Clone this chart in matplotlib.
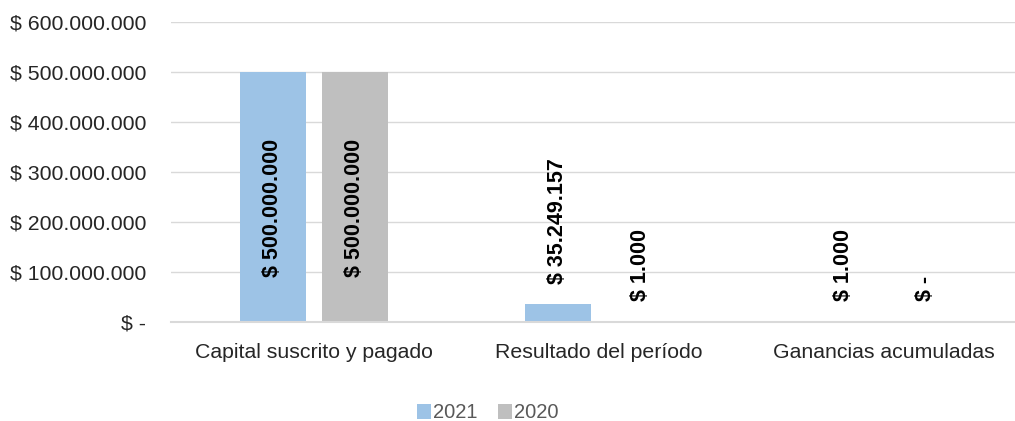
import matplotlib.pyplot as plt
import numpy as np

categorias = ["Capital suscrito y pagado", "Resultado del período", "Ganancias acumuladas"]
series = ["2021", "2020"]
valores_2021 = [500000000, 35249157, 1000]
valores_2020 = [500000000, 1000, 0]
yticks = [0, 100000000, 200000000, 300000000, 400000000, 500000000, 600000000]


def pesos(v):
    if v == 0:
        return "$ -"
    return "$ " + f"{v:,.0f}".replace(",", ".")


plt.rcParams['font.family'] = ['Liberation Sans', 'DejaVu Sans']

fig = plt.figure(figsize=(10.15, 4.21), dpi=100)
ax = fig.add_axes([171 / 1015, 1 - 322 / 421, 856 / 1015, 300 / 421])

x = np.arange(len(categorias))
w = 0.231
off = 0.144
colores = ["#9DC3E6", "#BFBFBF"]

for i, (vals, nombre) in enumerate([(valores_2021, series[0]), (valores_2020, series[1])]):
    pos = x - off if i == 0 else x + off
    bars = ax.bar(pos, vals, width=w, color=colores[i], label=nombre, zorder=2)
    for b, v in zip(bars, vals):
        if v > 200000000:
            ax.text(b.get_x() + w / 2, v * 0.455, pesos(v), rotation=90, ha="center", va="center",
                    fontsize=15.5, fontweight="bold", color="black", zorder=3)
        else:
            ax.annotate(pesos(v), (b.get_x() + w / 2, v), xytext=(0, 15), textcoords="offset points",
                        rotation=90, ha="center", va="bottom", fontsize=15.5, fontweight="bold",
                        color="black", zorder=3)

ax.set_xlim(-0.5, 2.5)
ax.set_ylim(0, 600000000)
ax.set_yticks(yticks)
ax.set_yticklabels([pesos(v) for v in yticks])
ax.set_xticks(x)
ax.set_xticklabels(categorias)
ax.tick_params(axis="y", length=0, pad=18, labelsize=15.3, labelcolor="#262626")
ax.tick_params(axis="x", length=0, pad=15, labelsize=15.3, labelcolor="#262626")
ax.grid(axis="y", color="#D9D9D9", linewidth=1, zorder=0)
ax.set_axisbelow(True)
for s in ["top", "right", "left"]:
    ax.spines[s].set_visible(False)
ax.spines["bottom"].set_color("#D9D9D9")
ax.spines["bottom"].set_linewidth(1.5)

fig.legend(loc="center", bbox_to_anchor=(488 / 1015, 1 - 413 / 421), ncol=2, frameon=False,
           fontsize=14.5, handlelength=0.7, handleheight=0.7, handletextpad=0.1,
           columnspacing=1.0, labelcolor="#595959")

fig.savefig("out.png", dpi=100)
